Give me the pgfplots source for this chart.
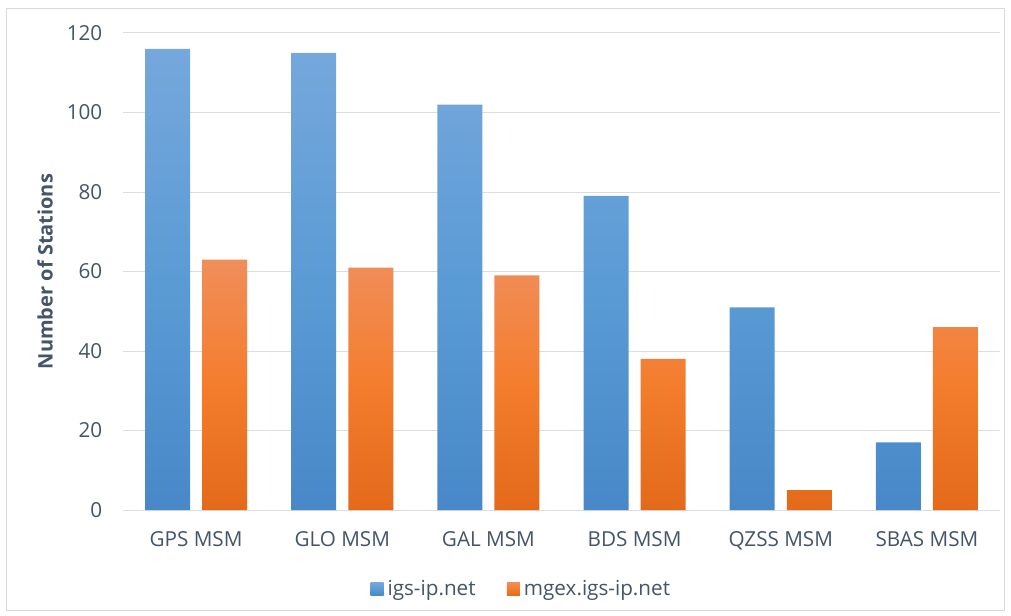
\documentclass[border=0pt]{standalone}
\usepackage{pgfplots}
\pgfplotsset{compat=1.18}
\usepackage{fontspec}
\setmainfont{Open Sans}
\definecolor{txt}{RGB}{68,84,106}
\definecolor{gridc}{RGB}{217,222,228}
\definecolor{frm}{RGB}{217,217,217}
\definecolor{bT}{RGB}{117,168,220}
\definecolor{bM}{RGB}{91,155,213}
\definecolor{bB}{RGB}{72,136,200}
\definecolor{oT}{RGB}{240,142,90}
\definecolor{oM}{RGB}{244,125,45}
\definecolor{oB}{RGB}{226,106,26}
\definecolor{bL}{RGB}{74,140,206}
\definecolor{oL}{RGB}{232,110,30}
\begin{document}
\begin{tikzpicture}
\useasboundingbox (-92.25pt,-78.75pt) rectangle (666pt,382.5pt);
\draw[frm, line width=0.75pt] (-87pt,-75pt) rectangle (660.75pt,375.75pt);
\begin{axis}[
  at={(0pt,0pt)}, anchor=south west,
  scale only axis, width=657.75pt, height=357.75pt,
  xmin=-0.5, xmax=5.5, ymin=0, ymax=120,
  ytick={0,20,...,120},
  xtick={0,...,5},
  xticklabels={GPS MSM, GLO MSM, GAL MSM, BDS MSM, QZSS MSM, SBAS MSM},
  ymajorgrids, grid style={gridc, line width=0.75pt},
  axis line style={draw=none},
  major tick length=0pt,
  tick label style={font=\fontsize{15.5}{17}\selectfont, text=txt},
  /pgf/number format/assume math mode=true,
  yticklabel style={xshift=-12pt},
  xticklabel style={yshift=-12.5pt},
  legend style={at={(axis description cs:0.282,-0.1656)}, anchor=west, draw=none, inner sep=0pt,
    font=\fontsize{15.5}{17}\selectfont, text=txt,
    /tikz/every odd column/.append style={column sep=1pt},
    /tikz/every even column/.append style={column sep=21.5pt}},
  legend columns=2,
  clip=false,
]
\addplot[ybar, bar width=33.75pt, bar shift=-21.4pt, draw=none,
  top color=bT, bottom color=bB, middle color=bM,
  legend image code/.code={\fill[bL] (0pt,-4.8pt) rectangle (9.75pt,4.8pt);}]
  coordinates {(0,116) (1,115) (2,102) (3,79) (4,51) (5,17)};
\addlegendentry{igs-ip.net}
\addplot[ybar, bar width=33.75pt, bar shift=21.4pt, draw=none,
  top color=oT, bottom color=oB, middle color=oM,
  legend image code/.code={\fill[oL] (0pt,-4.8pt) rectangle (9.75pt,4.8pt);}]
  coordinates {(0,63) (1,61) (2,59) (3,38) (4,5) (5,46)};
\addlegendentry{mgex.igs-ip.net}
\end{axis}
\node[rotate=90, font=\fontsize{15}{17}\selectfont\bfseries, text=txt] at (-58.5pt,178.875pt) {Number of Stations};
\end{tikzpicture}
\end{document}
